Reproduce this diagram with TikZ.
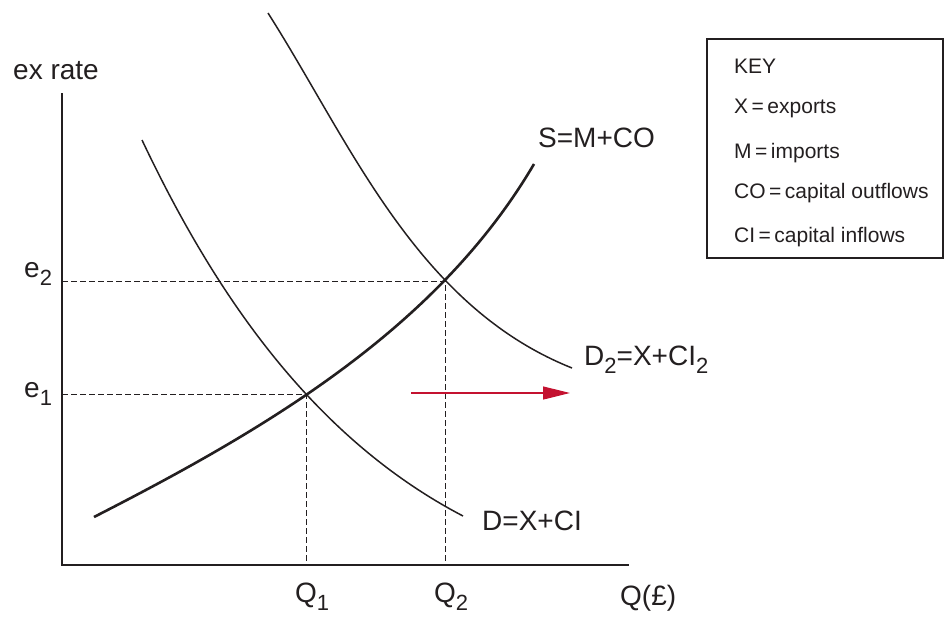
\documentclass[tikz,border=0pt]{standalone}
\usepackage{fontspec}
\setmainfont{Liberation Sans}
\usetikzlibrary{arrows.meta,positioning}
\usepackage{xcolor}
\definecolor{inkgrey}{RGB}{35,31,32}
\definecolor{shiftred}{RGB}{196,18,48}
\newcommand{\lowsub}[1]{\raisebox{-0.3em}{\fontsize{22}{22}\selectfont #1}}
\tikzset{demandline/.style={draw=inkgrey, line width=1.5pt}}

\begin{document}
\begin{tikzpicture}[
  x=1pt, y=-1pt,
  font=\fontsize{28}{34}\selectfont,
  text=inkgrey,
  lbl/.style={anchor=base west, inner sep=0pt},
  keytext/.style={lbl, font=\fontsize{21}{25}\selectfont},
  keybox/.style={draw=inkgrey, line width=1.3pt, minimum width=236pt, minimum height=219pt, inner sep=0pt},
  axisline/.style={draw=inkgrey, line width=1.5pt},
  guide/.style={draw=inkgrey, line width=0.9pt, dash pattern=on 6pt off 3pt},
  supplyline/.style={demandline, line width=2.6pt},
  movearrow/.style={draw=shiftred, line width=1.2pt, -{Triangle[length=27pt,width=13pt]}}
]
\useasboundingbox (0,0) rectangle (949,616);

% points on the axes
\coordinate (origin) at (62,565);
\coordinate (ytop) at (62,93);
\coordinate (xend) at (629,565);
\coordinate (eqone) at (306,394);
\coordinate (eqtwo) at (445,281);

% guide lines
\draw[guide] (origin |- eqone) -- (eqone) -- (eqone |- origin);
\draw[guide] (origin |- eqtwo) -- (eqtwo) -- (eqtwo |- origin);

% curves
\draw[supplyline] (94,517) .. controls (260.5,431.8) and (436.1,330.8) .. (534,164);
\draw[demandline] (142,140) .. controls (213,290) and (310.7,436.5) .. (463,516);
\draw[demandline] (268,13) .. controls (350.5,142.9) and (416.3,305.8) .. (572,368);

% axes
\draw[axisline] (ytop) |- (xend);

% shift of demand
\coordinate (shiftstart) at (411,393);
\coordinate (shiftend) at (570,393);
\draw[movearrow] (shiftstart) -- (shiftend);

% labels
\node[lbl] (exrate) at (13,79) {ex rate};
\node[lbl] (etwo) at (24,277) {e\lowsub{2}};
\node[lbl] (eone) at (24,397) {e\lowsub{1}};
\node[lbl] (qone) at (295,602) {Q\lowsub{1}};
\node[lbl] (qtwo) at (434,602) {Q\lowsub{2}};
\node[lbl] (qaxis) at (620,605) {Q(£)};
\node[lbl] (slabel) at (538,147) {S=M+CO};
\node[lbl] (dtwolabel) at (584,365) {D\lowsub{2}=X+CI\lowsub{2}};
\node[lbl] (dlabel) at (482,530) {D=X+CI};

% key
\node[keybox] (key) at (825,148.5) {};
\node[keytext] (keytitle) at (734,73) {KEY};
\node[keytext] (keyx) at (734,113) {X\,=\,exports};
\node[keytext] (keym) at (734,158) {M\,=\,imports};
\node[keytext] (keyco) at (734,198) {CO\,=\,capital outflows};
\node[keytext] (keyci) at (734,242) {CI\,=\,capital inflows};
\end{tikzpicture}
\end{document}
